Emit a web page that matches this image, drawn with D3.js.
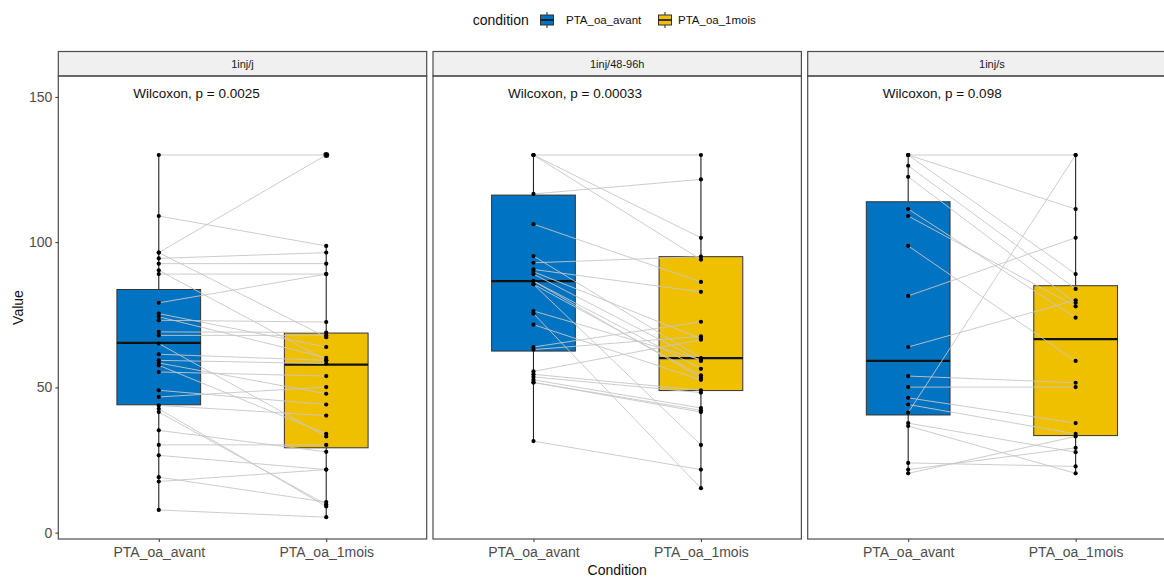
<!DOCTYPE html>
<html>
<head>
<meta charset="utf-8">
<script src="https://cdn.jsdelivr.net/npm/d3@7"></script>
<style>
  body { margin: 0; background: #fff; }
  svg { display: block; font-family: Arial, "Liberation Sans", sans-serif; }
</style>
</head>
<body>
<div id="chart"></div>
<script>
// facets, groups and labels
const facets = ["1inj/j", "1inj/48-96h", "1inj/s"];
const conditions = ["PTA_oa_avant", "PTA_oa_1mois"];
const pLabels = ["Wilcoxon, p = 0.0025", "Wilcoxon, p = 0.00033", "Wilcoxon, p = 0.098"];
const yTicks = [0, 50, 100, 150];

// paired values (same index = same subject)
const avantJ = [130, 109, 96.4, 96.4, 94.4, 92.6, 90.3, 89.0, 79.1, 75.4, 74.3, 73.1, 69.1, 67.9, 65.1, 61.4,
  59.3, 58.4, 57.6, 55.3, 49.0, 46.7, 43.8, 42.6, 41.5, 35.2, 30.2, 26.6, 19.1, 17.6, 7.8];
const moisJ = [130, 98.7, 130, 67.3, 96.4, 92.6, 59.3, 89.0, 89.0, 63.9, 60.2, 72.5, 68.9, 67.9, 33.1, 59.3,
  58.2, 47.8, 34.0, 53.9, 44.1, 50.1, 40.3, 9.0, 9.7, 27.8, 30.2, 21.7, 10.5, 21.7, 5.3];

const avantH = [130, 130, 130, 116.6, 106.2, 95.2, 92.9, 90.6, 89.8, 89.0, 86.6, 86.6, 85.5, 85.5, 76.3, 75.4,
  71.6, 63.9, 63.0, 55.5, 54.5, 53.6, 52.6, 51.7, 51.7, 31.5];
const moisH = [130, 101.5, 94.0, 121.6, 86.3, 60.1, 95.0, 82.9, 66.8, 59.1, 56.4, 53.3, 30.2, 54.1, 59.5, 15.3,
  52.6, 72.6, 67.6, 66.4, 49.0, 48.2, 42.9, 41.5, 42.1, 21.7];

const avantS = [130, 130, 130, 126.3, 122.5, 111.4, 109, 98.7, 81.5, 63.9, 53.9, 50.1, 46.4, 44.1, 41.3, 37.7,
  36.7, 24.0, 21.7, 20.4];
const moisS = [130, 111.4, 89.0, 83.9, 79.1, 74.0, 77.9, 59.1, 101.5, 80.0, 51.6, 50.1, 37.7, 34.0, 130, 27.7,
  20.4, 22.8, 29.2, 33.1];

// box statistics per facet: [lower whisker, q1, median, q3, upper whisker]
const boxAvant = [[7.8, 44.0, 65.3, 83.7, 130], [31.5, 62.5, 86.6, 116.2, 130], [20.4, 40.5, 59.1, 113.9, 130]];
const boxMois = [[5.3, 29.2, 57.8, 68.7, 98.7], [15.3, 48.9, 60.1, 95.0, 130], [20.4, 33.4, 66.6, 85.0, 130]];
const outliersMois = [[130], [], []];

const colors = ["#0073C2", "#EFC000"];

const width = 1164, height = 579;
const panelLeft = 58.3, panelW = 368.4, panelGap = 6.3;
const panelTop = 76, panelBottom = 539, stripTop = 51.5;

const svg = d3.select("#chart").append("svg")
  .attr("width", width)
  .attr("height", height);

const y = d3.scaleLinear().domain([-2.2, 157.2]).range([panelBottom, panelTop]);
const fx = d3.scaleBand()
  .domain(facets)
  .range([panelLeft, panelLeft + 3 * panelW + 2 * panelGap])
  .paddingInner(panelGap / (panelW + panelGap));
const x = d3.scalePoint().domain(conditions).range([0, panelW]).padding(0.6);
const boxW = x.step() * 0.5;

const pairs = [[avantJ, moisJ], [avantH, moisH], [avantS, moisS]];

svg.append("defs").append("clipPath").attr("id", "panel-clip")
  .append("rect").attr("width", panelW).attr("height", panelBottom - panelTop).attr("y", panelTop);

facets.forEach((f, i) => {
  const g = svg.append("g").attr("transform", `translate(${fx(f)},0)`);

  // strip
  g.append("rect")
    .attr("x", 0).attr("y", stripTop)
    .attr("width", panelW).attr("height", panelTop - stripTop)
    .attr("fill", "#f0f0f0").attr("stroke", "#4d4d4d").attr("stroke-width", 1.2);
  g.append("text")
    .attr("x", panelW / 2).attr("y", (stripTop + panelTop) / 2)
    .attr("dy", "0.35em").attr("text-anchor", "middle")
    .attr("font-size", 11).attr("fill", "#1a1a1a")
    .text(f);

  const plot = g.append("g").attr("clip-path", "url(#panel-clip)");

  // boxplots
  [boxAvant[i], boxMois[i]].forEach((b, k) => {
    const cx = x(conditions[k]);
    const bg = plot.append("g");
    bg.append("line").attr("x1", cx).attr("x2", cx).attr("y1", y(b[0])).attr("y2", y(b[1]))
      .attr("stroke", "#222").attr("stroke-width", 1.1);
    bg.append("line").attr("x1", cx).attr("x2", cx).attr("y1", y(b[3])).attr("y2", y(b[4]))
      .attr("stroke", "#222").attr("stroke-width", 1.1);
    bg.append("rect")
      .attr("x", cx - boxW / 2).attr("width", boxW)
      .attr("y", y(b[3])).attr("height", y(b[1]) - y(b[3]))
      .attr("fill", colors[k]).attr("stroke", "#333").attr("stroke-width", 1);
    bg.append("line").attr("x1", cx - boxW / 2).attr("x2", cx + boxW / 2)
      .attr("y1", y(b[2])).attr("y2", y(b[2]))
      .attr("stroke", "#111").attr("stroke-width", 2.2);
  });

  // outliers from the boxplot
  plot.selectAll("circle.outlier")
    .data(outliersMois[i])
    .join("circle")
    .attr("class", "outlier")
    .attr("cx", x(conditions[1])).attr("cy", d => y(d))
    .attr("r", 3).attr("fill", "#111");

  // paired lines
  const [a, m] = pairs[i];
  const links = a.map((v, j) => ({ a: v, m: m[j] }));
  plot.selectAll("line.pair")
    .data(links)
    .join("line")
    .attr("class", "pair")
    .attr("x1", x(conditions[0])).attr("x2", x(conditions[1]))
    .attr("y1", d => y(d.a)).attr("y2", d => y(d.m))
    .attr("stroke", "#c6c6c6").attr("stroke-width", 0.9);

  // points
  const pts = a.map(v => ({ c: conditions[0], v })).concat(m.map(v => ({ c: conditions[1], v })));
  plot.selectAll("circle.pt")
    .data(pts)
    .join("circle")
    .attr("class", "pt")
    .attr("cx", d => x(d.c)).attr("cy", d => y(d.v))
    .attr("r", 2.1).attr("fill", "#000");

  // panel border
  g.append("rect")
    .attr("x", 0).attr("y", panelTop)
    .attr("width", panelW).attr("height", panelBottom - panelTop)
    .attr("fill", "none").attr("stroke", "#4d4d4d").attr("stroke-width", 1.2);

  // test label
  g.append("text")
    .attr("x", 75).attr("y", y(151.4)).attr("dy", "0.35em")
    .attr("font-size", 13.5).attr("fill", "#111")
    .text(pLabels[i]);

  // bottom axis
  const ax = g.append("g")
    .attr("transform", `translate(0,${panelBottom})`)
    .call(d3.axisBottom(x).tickSize(3).tickPadding(5));
  ax.select(".domain").remove();
  ax.selectAll("line").attr("stroke", "#333");
  ax.selectAll("text").attr("font-size", 14).attr("fill", "#4d4d4d")
    .attr("font-family", "Arial, 'Liberation Sans', sans-serif");
});

// left axis
const ay = svg.append("g")
  .attr("transform", `translate(${panelLeft},0)`)
  .call(d3.axisLeft(y).tickValues(yTicks).tickSize(3).tickPadding(3));
ay.select(".domain").remove();
ay.selectAll("line").attr("stroke", "#333");
ay.selectAll("text").attr("font-size", 14).attr("fill", "#4d4d4d")
  .attr("font-family", "Arial, 'Liberation Sans', sans-serif");

// axis titles
svg.append("text")
  .attr("transform", `translate(18,${(panelTop + panelBottom) / 2}) rotate(-90)`)
  .attr("text-anchor", "middle").attr("dy", "0.35em")
  .attr("font-size", 14).attr("fill", "#111")
  .text("Value");
svg.append("text")
  .attr("x", panelLeft + (3 * panelW + 2 * panelGap) / 2).attr("y", 570)
  .attr("text-anchor", "middle").attr("dy", "0.35em")
  .attr("font-size", 14).attr("fill", "#111")
  .text("Condition");

// legend
const legend = svg.append("g");
legend.append("text")
  .attr("x", 472.7).attr("y", 20).attr("dy", "0.35em")
  .attr("font-size", 14).attr("fill", "#111")
  .text("condition");
const keyX = [539, 657];
const labelX = [566, 678];
conditions.forEach((c, k) => {
  const kx = keyX[k], mid = kx + 8;
  legend.append("line").attr("x1", mid).attr("x2", mid).attr("y1", 12).attr("y2", 28)
    .attr("stroke", "#222").attr("stroke-width", 1);
  legend.append("rect").attr("x", kx + 1.5).attr("y", 15).attr("width", 13).attr("height", 10)
    .attr("fill", colors[k]).attr("stroke", "#333").attr("stroke-width", 1);
  legend.append("line").attr("x1", kx + 1.5).attr("x2", kx + 14.5).attr("y1", 20).attr("y2", 20)
    .attr("stroke", "#111").attr("stroke-width", 1.6);
  legend.append("text")
    .attr("x", labelX[k]).attr("y", 20).attr("dy", "0.35em")
    .attr("font-size", 11.5).attr("fill", "#111")
    .text(c);
});
</script>
</body>
</html>
